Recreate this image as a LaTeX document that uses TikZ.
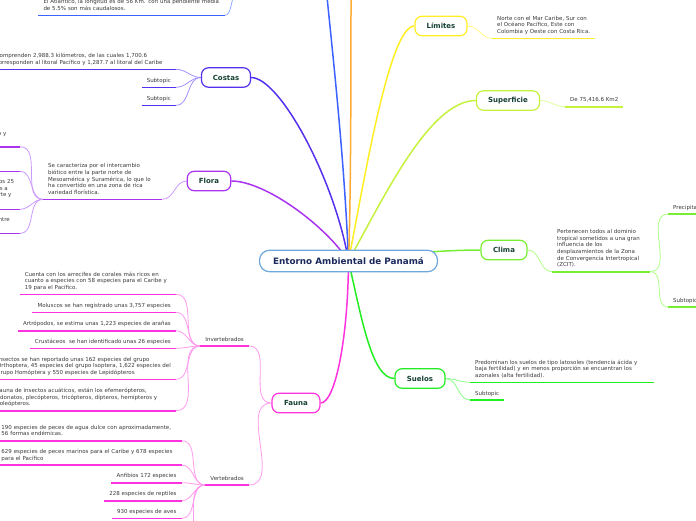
\documentclass[tikz,border=0pt]{standalone}
\usepackage{fontspec}
\setmainfont{DejaVu Sans}
\usetikzlibrary{backgrounds}
\definecolor{cBlue}{HTML}{3D62FF}
\definecolor{cBlueL}{HTML}{8FAAFF}
\definecolor{cOrange}{HTML}{FFAA33}
\definecolor{cYel}{HTML}{FFEE22}
\definecolor{cYelL}{HTML}{FFFF88}
\definecolor{cSup}{HTML}{C5F23C}
\definecolor{cSupL}{HTML}{DDFF99}
\definecolor{cCli}{HTML}{77EE33}
\definecolor{cCliL}{HTML}{B0FF88}
\definecolor{cSue}{HTML}{22EE22}
\definecolor{cSueL}{HTML}{88FF88}
\definecolor{cFau}{HTML}{FF33DD}
\definecolor{cFauL}{HTML}{FF99EE}
\definecolor{cFlo}{HTML}{AA33EE}
\definecolor{cFloL}{HTML}{CC99FF}
\definecolor{cCos}{HTML}{5530EE}
\definecolor{cCosL}{HTML}{A090FF}
\definecolor{cCenter}{HTML}{6FA8DC}
\definecolor{cCenterT}{HTML}{1B2A5C}
\definecolor{cTopicT}{HTML}{153F33}
\definecolor{cLeafT}{HTML}{3A3A3A}
\newcommand\leafsize{\fontsize{5.5}{6.6}\selectfont}
\newcommand\topicsize{\bfseries\fontsize{7}{8}\selectfont}
\newcommand\centersize{\bfseries\fontsize{8.8}{10}\selectfont}
\tikzset{
  topic/.style={draw, line width=1.2pt, fill=white, rounded corners=7pt, minimum height=19.5pt, inner sep=0pt, font=\topicsize, text=cTopicT},
  leaf/.style={font=\leafsize, text=cLeafT, align=left, inner xsep=5pt, inner ysep=3.4pt, execute at end node={\rule[-1.4pt]{0pt}{1pt}}},
  frag/.style={font=\leafsize, text=cLeafT, inner sep=0pt},
  ul/.style={line width=1.6pt},
  cn/.style={line width=0.8pt},
  br/.style={line width=1.5pt}
}
\begin{document}
\begin{tikzpicture}[x=1pt,y=-1pt]
\useasboundingbox (0,0) rectangle (696,520);

% center
\node[draw=cCenter, line width=1.2pt, fill=white, rounded corners=10pt, minimum width=178pt, minimum height=21.5pt, font=\centersize, text=cCenterT] (center) at (348.5,261) {Entorno Ambiental de Panamá};

% topics
\node[topic, draw=cCos, minimum width=49pt] (cos) at (226,77.5) {Costas};
\node[topic, draw=cFlo, minimum width=43.5pt] (flo) at (209,181) {Flora};
\node[topic, draw=cYel, minimum width=52pt] (lim) at (441,26) {Límites};
\node[topic, draw=cSup, minimum width=63pt] (sup) at (508,100.5) {Superficie};
\node[topic, draw=cCli, minimum width=46pt] (cli) at (504,250) {Clima};
\node[topic, draw=cSue, minimum width=50pt] (sue) at (420,378.5) {Suelos};
\node[topic, draw=cFau, minimum width=48pt] (fau) at (296,403) {Fauna};

\coordinate (hidtop) at (326,-14);
\coordinate (orgtop) at (351,-14);
\coordinate (hidsub) at (238,-16);

% top blue leaf
\node[leaf, anchor=south west, text width=176pt] (hidL) at (38.3,15.3) {El Atlántico, la longitud es de 56 Km. con una pendiente media\\de 5.5\% son más caudalosos.};
\draw[ul, cBlue] (hidL.south west) -- (hidL.south east);

% Limites
\node[leaf, anchor=south west] (limL) at (492,38.3) {Norte con el Mar Caribe, Sur con\\el Océano Pacífico, Este con\\Colombia y Oeste con Costa Rica.};
\draw[ul, cYel] (limL.south west) -- (limL.south east);

% Superficie
\node[leaf, anchor=south west] (supL) at (565,106.7) {De 75,416.6 Km2};
\draw[ul, cSup] (supL.south west) -- (supL.south east);

% Clima
\node[leaf, anchor=south west, text width=88pt] (cliL) at (552,271.7) {Pertenecen todos al dominio\\tropical sometidos a una gran\\influencia de los\\desplazamientos de la Zona\\de Convergencia Intertropical\\(ZCIT).};
\draw[ul, cCli] (cliL.south west) -- (cliL.south east);
\node[leaf, anchor=south west] (pre) at (668,214) {Precipitaciones};
\draw[ul, cCli] (pre.south west) -- (pre.south east);
\node[leaf, anchor=south west] (csub) at (668,307) {Subtopic};
\draw[ul, cCli] (csub.south west) -- (csub.south east);

% Suelos
\node[leaf, anchor=south west, text width=174pt] (sueL) at (470,382.3) {Predominan los suelos de tipo latosoles (tendencia ácida y\\baja fertilidad) y en menos proporción se encuentran los\\azonales (alta fertilidad).};
\draw[ul, cSue] (sueL.south west) -- (sueL.south east);
\node[leaf, anchor=south west] (ssub) at (470,400) {Subtopic};
\draw[ul, cSue] (ssub.south west) -- (ssub.south east);

% Costas
\node[leaf, anchor=south east, text width=175pt] (cosL) at (176,69.3) {Comprenden 2,988.3 kilómetros, de las cuales 1,700.6\\corresponden al litoral Pacífico y 1,287.7 al litoral del Caribe};
\draw[ul, cCos] (cosL.south west) -- (cosL.south east);
\node[leaf, anchor=south east] (cs1) at (176,87.3) {Subtopic};
\draw[ul, cCos] (cs1.south west) -- (cs1.south east);
\node[leaf, anchor=south east] (cs2) at (176,105.3) {Subtopic};
\draw[ul, cCos] (cs2.south west) -- (cs2.south east);

% Flora
\node[leaf, anchor=south west, text width=109pt] (floL) at (43,199.3) {Se caracteriza por el intercambio\\biótico entre la parte norte de\\Mesoamérica y Suramérica, lo que lo\\ha convertido en una zona de rica\\variedad florística.};
\draw[ul, cFlo] (floL.south west) -- (floL.south east);
\coordinate (fc1) at (20,146.7);
\coordinate (fc2) at (20,171.3);
\coordinate (fc3) at (20,209.3);
\coordinate (fc4) at (20,233.3);
\foreach \c in {fc1,fc2,fc3,fc4} \draw[ul, cFlo] (\c) -- ++(-40,0);
\node[frag, anchor=base east] (fr1) at (6.5,135) {o y};
\node[frag, anchor=base east] (fr2) at (14.3,183.5) {os 25};
\node[frag, anchor=base east] (fr3) at (8,190.1) {s a};
\node[frag, anchor=base east] (fr4) at (11.7,196.7) {rte y};
\node[frag, anchor=base east] (fr5) at (10,221) {ntre};

% Fauna
\node[leaf, anchor=south east] (inv) at (249,346) {Invertebrados};
\draw[ul, cFau] (inv.south west) -- (inv.south east);
\node[leaf, anchor=south east] (ver) at (249,485) {Vertebrados};
\draw[ul, cFau] (ver.south west) -- (ver.south east);

\node[leaf, anchor=south east, text width=146pt] (fi1) at (176,294.3) {Cuenta con los arrecifes de corales más ricos en\\cuanto a especies con 58 especies para el Caribe y\\19 para el Pacífico.};
\node[leaf, anchor=south east] (fi2) at (176,312.3) {Moluscos se han registrado unas 3,757 especies};
\node[leaf, anchor=south east] (fi3) at (176,330.7) {Artrópodos, se estima unas 1,223 especies de arañas};
\node[leaf, anchor=south east] (fi4) at (176,348.3) {Crustáceos~ se han identificado unas 26 especies};
\node[leaf, anchor=south east] (fi5) at (176,379.3) {Insectos se han reportado unas 162 especies del grupo\\Orthoptera, 45 especies del grupo Isoptera, 1,622 especies del\\grupo Homóptera y 550 especies de Lepidópteros};
\node[leaf, anchor=south east, text width=174pt] (fi6) at (176,410.7) {Fauna de insectos acuáticos, están los efemerópteros,\\odonatos, plecópteros, tricópteros, dípteros, hemípteros y\\coleópteros.};
\foreach \n in {fi1,fi2,fi3,fi4,fi5,fi6} \draw[ul, cFau] (\n.south west) -- (\n.south east);

\node[leaf, anchor=south east, text width=175pt] (fv1) at (181.7,440.7) {190 especies de peces de agua dulce con aproximadamente,\\56 formas endémicas.};
\node[leaf, anchor=south east, text width=175pt] (fv2) at (181.7,465) {629 especies de peces marinos para el Caribe y 678 especies\\para el Pacífico};
\node[leaf, anchor=south east] (fv3) at (181.7,482.7) {Anfibios 172 especies};
\node[leaf, anchor=south east] (fv4) at (181.7,500.7) {228 especies de reptiles};
\node[leaf, anchor=south east] (fv5) at (181.7,518.3) {930 especies de aves};
\coordinate (fv6) at (181.7,545);
\foreach \n in {fv1,fv2,fv3,fv4,fv5} \draw[ul, cFau] (\n.south west) -- (\n.south east);

\begin{scope}[on background layer]
% main branches
\draw[br, cBlue] (center.center) .. controls (344,150) and (331,40) .. (hidtop);
\draw[br, cOrange] (center.center) .. controls (351,200) and (351,60) .. (orgtop);
\draw[br, cYel] (center.center) .. controls (366,170) and (390,26) .. (lim.west);
\draw[br, cSup] (center.center) .. controls (385,195) and (430,100.5) .. (sup.west);
\draw[br, cCli] (center.center) .. controls (400,253) and (450,250) .. (cli.west);
\draw[br, cSue] (center.center) .. controls (362,320) and (372,378.5) .. (sue.west);
\draw[br, cFau] (center.center) .. controls (348,340) and (335,403) .. (fau.east);
\draw[br, cFlo] (center.center) .. controls (325,225) and (265,181) .. (flo.east);
\draw[br, cCos] (center.center) .. controls (335,180) and (280,77.5) .. (cos.east);
% sub connectors
\draw[cn, cBlueL] (hidL.south east) .. controls (232,15.3) and (230,0) .. (hidsub);
\draw[cn, cYelL] (lim.east) to[out=0,in=180] (limL.south west);
\draw[cn, cSupL] (sup.east) to[out=0,in=180] (supL.south west);
\draw[cn, cCliL] (cli.east) to[out=0,in=180] (cliL.south west);
\draw[cn, cCliL] (cliL.south east) to[out=0,in=180] (pre.south west);
\draw[cn, cCliL] (cliL.south east) to[out=0,in=180] (csub.south west);
\draw[cn, cSueL] (sue.east) to[out=0,in=180] (sueL.south west);
\draw[cn, cSueL] (sue.east) to[out=0,in=180] (ssub.south west);
\draw[cn, cCosL] (cos.west) to[out=180,in=0] (cosL.south east);
\draw[cn, cCosL] (cos.west) to[out=180,in=0] (cs1.south east);
\draw[cn, cCosL] (cos.west) to[out=180,in=0] (cs2.south east);
\draw[cn, cFloL] (flo.west) to[out=180,in=0] (floL.south east);
\foreach \c in {fc1,fc2,fc3,fc4} \draw[cn, cFloL] (floL.south west) to[out=180,in=0] (\c);
\draw[cn, cFauL] (fau.west) to[out=180,in=0] (inv.south east);
\draw[cn, cFauL] (fau.west) to[out=180,in=0] (ver.south east);
\foreach \n in {fi1,fi2,fi3,fi4,fi5,fi6} \draw[cn, cFauL] (inv.south west) to[out=180,in=0] (\n.south east);
\foreach \n in {fv1,fv2,fv3,fv4,fv5} \draw[cn, cFauL] (ver.south west) to[out=180,in=0] (\n.south east);
\draw[cn, cFauL] (ver.south west) to[out=180,in=0] (fv6);
\end{scope}
\end{tikzpicture}
\end{document}
